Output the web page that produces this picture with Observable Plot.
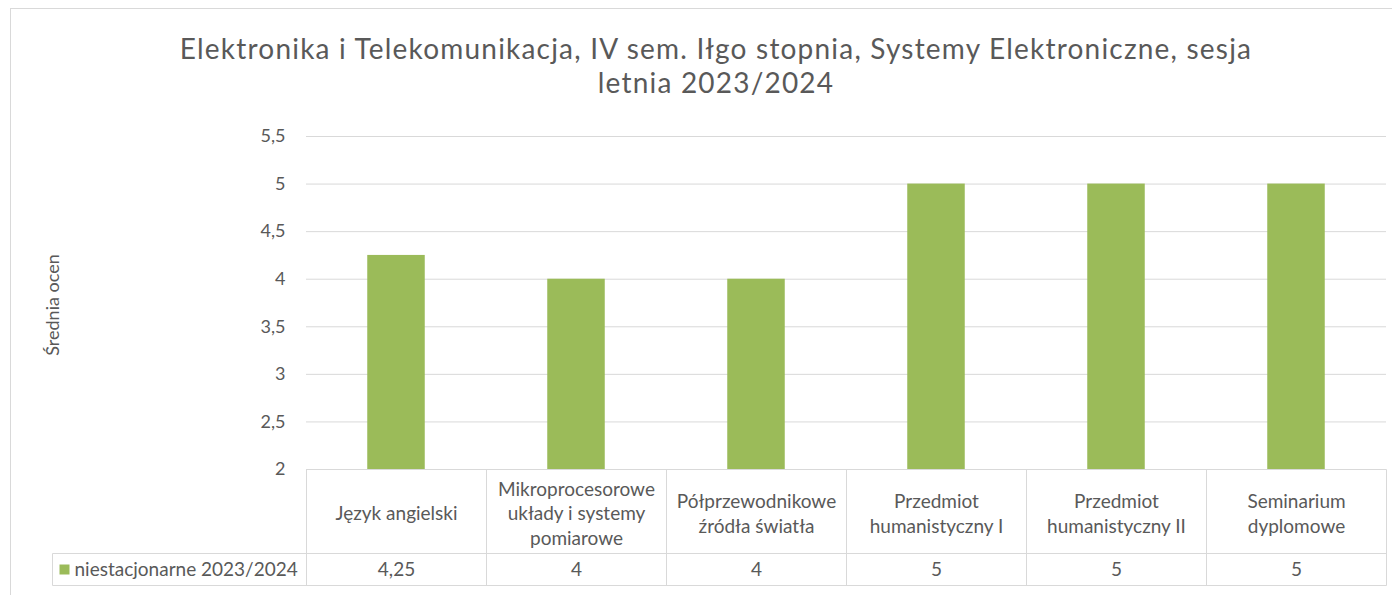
<!DOCTYPE html>
<html>
<head>
<meta charset="utf-8">
<script src="https://cdn.jsdelivr.net/npm/d3@7"></script>
<script src="https://cdn.jsdelivr.net/npm/@observablehq/plot@0.6"></script>
<style>
  html, body { margin: 0; padding: 0; background: #fff; }
  #wrap { position: relative; width: 1392px; height: 595px; overflow: hidden; background: #fff; }
  #border { position: absolute; left: 10px; top: 8px; width: 1400px; height: 620px; border: 1px solid #d9d9d9; box-sizing: border-box; }
  #title { position: absolute; left: 0; top: 31px; width: 1432px; text-align: center;
           font-family: Lato, "Noto Sans", sans-serif; font-size: 28px; letter-spacing: 1.2px; line-height: 34px; color: #595959; }
  #chart { position: absolute; left: 0; top: 0; }
</style>
</head>
<body>
<div id="wrap">
  <div id="border"></div>
  <div id="chart"></div>
  <div id="title"></div>
</div>
<script>
// ---- data ----
const titleLines = ["Elektronika i Telekomunikacja, IV sem. Iłgo stopnia, Systemy Elektroniczne, sesja", "letnia 2023/2024"];
const subjects = [
  "Język angielski",
  "Mikroprocesorowe układy i systemy pomiarowe",
  "Półprzewodnikowe źródła światła",
  "Przedmiot humanistyczny I",
  "Przedmiot humanistyczny II",
  "Seminarium dyplomowe"
];
const subjectLabels = [
  "Język angielski",
  "Mikroprocesorowe\nukłady i systemy\npomiarowe",
  "Półprzewodnikowe\nźródła światła",
  "Przedmiot\nhumanistyczny I",
  "Przedmiot\nhumanistyczny II",
  "Seminarium\ndyplomowe"
];
const values = [4.25, 4, 4, 5, 5, 5];
const seriesName = "niestacjonarne 2023/2024";
const yTicks = [2, 2.5, 3, 3.5, 4, 4.5, 5, 5.5];
const yLabel = "Średnia ocen";

// ---- style / layout ----
const barColor = "#9BBB59";
const gridColor = "#d9d9d9";
const textColor = "#595959";
const W = 1392, H = 595;
const mT = 136, mB = 126, mL = 306, mR = 6;
const rowH1 = 84, rowH2 = 32;
const legendLeft = 52;
const fmt = d => String(d).replace(".", ",");

document.getElementById("title").innerHTML = titleLines.join("<br>");

const table = subjects.map((s, i) => ({subject: s, label: subjectLabels[i], value: values[i]}));

function tableGrid(index, scales, values, dims) {
  const x = scales.x;
  const bw = typeof x.bandwidth === "function" ? x.bandwidth() : x.bandwidth;
  const y0 = dims.height - dims.marginBottom + 0.5;
  const y1 = y0 + rowH1, y2 = y1 + rowH2;
  const edges = subjects.map(s => x(s) + 0.5);
  edges.push(x(subjects[subjects.length - 1]) + bw + 0.5);
  const g = d3.create("svg:g").attr("stroke", gridColor).attr("stroke-width", 1).attr("fill", "none");
  const line = (xa, ya, xb, yb) => g.append("line").attr("x1", xa).attr("y1", ya).attr("x2", xb).attr("y2", yb);
  edges.forEach(e => line(e, y0, e, y2));
  line(legendLeft + 0.5, y1, legendLeft + 0.5, y2);
  line(edges[0], y0, edges[edges.length - 1], y0);
  line(legendLeft + 0.5, y1, edges[edges.length - 1], y1);
  line(legendLeft + 0.5, y2, edges[edges.length - 1], y2);
  return g.node();
}

const chart = Plot.plot({
  width: W,
  height: H,
  marginTop: mT,
  marginBottom: mB,
  marginLeft: mL,
  marginRight: mR,
  style: {fontFamily: "Lato, 'Noto Sans', sans-serif", fontSize: "18px", color: textColor, background: "transparent", overflow: "visible"},
  x: {type: "band", domain: subjects, padding: 0, axis: null},
  y: {domain: [yTicks[0], yTicks[yTicks.length - 1]], ticks: yTicks, tickFormat: fmt, tickSize: 0, tickPadding: 21, label: null},
  marks: [
    Plot.ruleY(yTicks, {stroke: gridColor, strokeWidth: 1}),
    Plot.barY(table, {x: "subject", y1: yTicks[0], y2: "value", fill: barColor, insetLeft: 61.25, insetRight: 61.25}),
    tableGrid,
    Plot.text(table, {x: "subject", text: "label", frameAnchor: "bottom", dy: rowH1 / 2 + 1, lineAnchor: "middle", lineHeight: 1.3, fontSize: 19}),
    Plot.text(table, {x: "subject", text: d => fmt(d.value), frameAnchor: "bottom", dy: rowH1 + rowH2 / 2, lineAnchor: "middle", fontSize: 19}),
    Plot.dot([seriesName], {frameAnchor: "bottom-left", dx: 64 - mL, dy: rowH1 + rowH2 / 2, symbol: "square", r: 5.64, fill: barColor}),
    Plot.text([seriesName], {frameAnchor: "bottom-left", dx: 74 - mL, dy: rowH1 + rowH2 / 2, text: d => d, textAnchor: "start", lineAnchor: "middle", fontSize: 19}),
    Plot.text([yLabel], {frameAnchor: "left", dx: 53 - mL, dy: 2, text: d => d, rotate: -90, textAnchor: "middle", lineAnchor: "middle", fontSize: 18, letterSpacing: "0.6px"})
  ]
});
document.getElementById("chart").appendChild(chart);
</script>
</body>
</html>
